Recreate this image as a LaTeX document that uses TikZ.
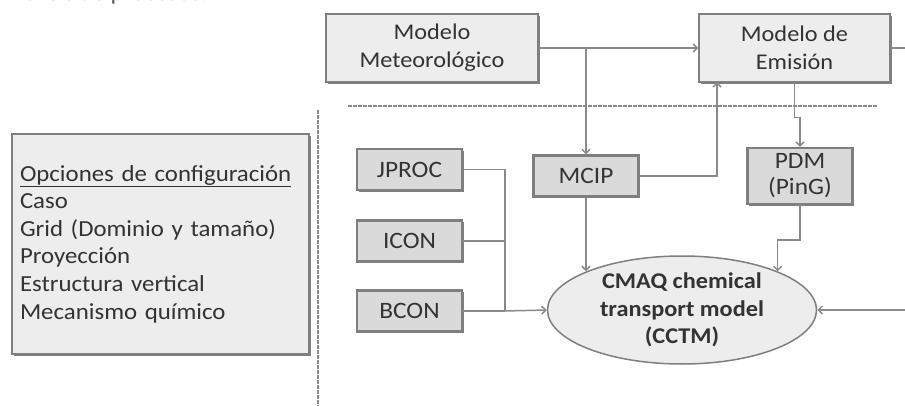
\documentclass[tikz,border=0pt]{standalone}
\usepackage{fontspec}
\setmainfont{Carlito}[FakeStretch=1.08]
\usetikzlibrary{shapes.geometric,shadows,arrows.meta}
\definecolor{linegray}{HTML}{8A8A8A}
\definecolor{boxedge}{HTML}{7F7F7F}
\definecolor{lightfill}{HTML}{EDEDED}
\definecolor{darkfill}{HTML}{DADADA}
\definecolor{textgray}{HTML}{333333}

\begin{document}
\begin{tikzpicture}[
        x=1pt, y=-1pt,
        every node/.style={text=textgray, inner sep=0pt},
        model/.style={draw=boxedge, line width=1.5pt, fill=lightfill, align=center,
            font=\fontsize{22.5}{28}\selectfont,
            drop shadow={shadow xshift=1.8pt, shadow yshift=-1.8pt, fill=boxedge, opacity=1}},
        tool/.style={model, fill=darkfill, line width=2.2pt, minimum width=105pt, minimum height=41pt,
            font=\fontsize{23.5}{26}\selectfont},
        core/.style={ellipse, draw=boxedge, line width=1.5pt, fill=lightfill, align=center,
            minimum width=269pt, minimum height=108pt, font=\bfseries\fontsize{22.5}{27.5}\selectfont},
        link/.style={draw=linegray, line width=1.5pt},
        flow/.style={link, -{Straight Barb[length=4pt, width=8pt]}},
        sep/.style={draw=linegray, line width=1.2pt, dash pattern=on 4pt off 1pt},
    ]
    \clip (0,0) rectangle (905,406);
    \node[anchor=base west, text=black!65, font=\fontsize{23}{27}\selectfont] (title) at (-2,1) {Análisis de procesos.};
    \node[model, minimum width=212pt, minimum height=68pt] (meteo) at (432,48) {Modelo\\Meteorológico};
    \node[model, minimum width=191pt, minimum height=68pt] (emision) at (794.5,48) {Modelo de\\Emisión};
    \node[tool] (jproc) at (409.5,169.5) {JPROC};
    \node[tool] (icon) at (409.5,241) {ICON};
    \node[tool] (bcon) at (409.5,311) {BCON};
    \node[tool] (mcip) at (586,176) {MCIP};
    \node[tool, minimum height=56pt] (pdm) at (800,176) {PDM\\(PinG)};
    \node[core] (cctm) at (682,310) {CMAQ chemical\\transport model\\(CCTM)};
    \node[model, minimum width=297pt, minimum height=220pt, text width=281pt, align=left,
        font=\fontsize{23}{27.6}\selectfont] (config) at (160.5,244)
        {\underline{Opciones de configuración}\\Caso\\Grid (Dominio y tamaño)\\Proyección\\Estructura vertical\\Mecanismo químico\\[4pt]};

    \coordinate (bus) at (505,311);
    \coordinate (emin) at (717,82);
    \coordinate (rin) at (905,310);
    \coordinate (rout) at (905,48);
    \coordinate (sepa) at (348,106);
    \coordinate (sepb) at (877,106);
    \coordinate (vsa) at (318,110);
    \coordinate (vsb) at (318,406);

    \draw[sep] (sepa) -- (sepb);
    \draw[sep] (vsa) -- (vsb);
    \draw[flow] (meteo.east) -- (emision.west);
    \draw[flow] (meteo.east -| mcip.north) -- (mcip.north);
    \draw[flow] (mcip.east) -| (emin);
    \draw[link] (emision.east) -- (rout);
    \draw[flow] (emision.south) -- ++(0,35) -| (pdm.north);
    \draw[flow] (mcip.south) -- (mcip.south |- cctm.north west);
    \draw[flow] (pdm.south) -- ++(0,35) -| (cctm.north east);
    \draw[link] (jproc.east) -| (bus);
    \draw[link] (icon.east) -- (icon.east -| bus);
    \draw[link] (bcon.east) -- (bus);
    \draw[flow] (bus) -- (cctm.west);
    \draw[flow] (rin) -- (cctm.east);
\end{tikzpicture}
\end{document}
